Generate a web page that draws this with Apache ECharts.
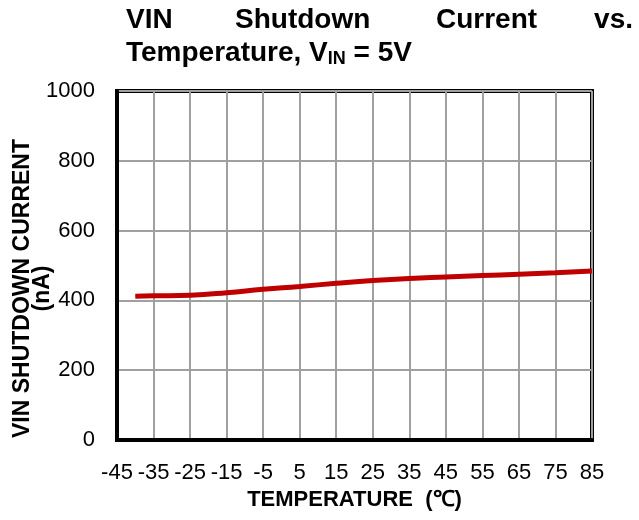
<!DOCTYPE html>
<html>
	<head>
		<meta charset="UTF-8">
		<title>VIN Shutdown Current vs. Temperature</title>
		<style>
			html, body { margin: 0; padding: 0; background: #fff; }
			#chart { width: 639px; height: 520px; }
		</style>
	</head>
	<body>
		<div id="chart"></div>
		<script src="https://cdn.jsdelivr.net/npm/echarts@6/dist/echarts.min.js"></script>
		<script>
			// 数据：温度(°C) 与 关断电流(nA)
			var temps = [-40, -35, -25, -15, -5, 5, 15, 25, 35, 45, 55, 65, 75, 85];
			var currents = [412, 413, 415, 422, 432, 440, 449, 457, 463, 467, 471, 475, 479, 484];
			var xTickLabels = [-45, -35, -25, -15, -5, 5, 15, 25, 35, 45, 55, 65, 75, 85];
			var yTicks = [0, 200, 400, 600, 800, 1000];

			// x轴起点为-45，轴内部用 温度+45 表示，标签再减回去
			var xStart = xTickLabels[0];
			var xEnd = xTickLabels[xTickLabels.length - 1];
			var lineData = temps.map(function(t, i) {
				return [t - xStart, currents[i]];
			});

			var chart = echarts.init(document.getElementById('chart'));
			var font = 'Liberation Sans, Arial, sans-serif';
			var titleStyle = { color: '#000', fontFamily: font, fontSize: 28, fontWeight: 'bold' };

			var option = {
				backgroundColor: '#fff',
				animation: false,
				title: [
					{ text: 'VIN', left: 121, top: 1, textStyle: titleStyle },
					{ text: 'Shutdown', left: 230, top: 1, textStyle: titleStyle },
					{ text: 'Current', left: 431, top: 1, textStyle: titleStyle },
					{ text: 'vs.', right: 1, top: 1, textStyle: titleStyle },
					{
						text: 'Temperature, V{sub|IN} = 5V',
						left: 121,
						top: 33,
						textStyle: {
							color: '#000', fontFamily: font, fontSize: 28, fontWeight: 'bold',
							rich: {
								sub: { fontFamily: font, fontSize: 18, fontWeight: 'bold', padding: [12, 0, 0, 0] }
							}
						}
					}
				],
				grid: {
					left: 117,
					right: 47,
					top: 91,
					bottom: 80,
					outerBoundsMode: 'none',
					show: true,
					borderColor: '#000',
					borderWidth: 4
				},
				xAxis: {
					type: 'value',
					min: 0,
					max: xEnd - xStart,
					interval: 10,
					name: 'TEMPERATURE  (\u2103)',
					nameLocation: 'middle',
					nameGap: 46,
					nameTextStyle: { color: '#000', fontFamily: font, fontSize: 22, fontWeight: 'bold' },
					axisLine: { show: true, lineStyle: { color: '#000', width: 4 } },
					axisTick: { show: false },
					axisLabel: {
						color: '#000', fontFamily: font, fontSize: 22, margin: 22,
						formatter: function(v) { return String(v + xStart); }
					},
					splitLine: { show: true, lineStyle: { color: '#a0a0a0', width: 2 } }
				},
				yAxis: {
					type: 'value',
					min: yTicks[0],
					max: yTicks[yTicks.length - 1],
					interval: 200,
					name: 'VIN SHUTDOWN CURRENT\n(nA)',
					nameLocation: 'middle',
					nameGap: 64,
					nameMoveOverlap: false,
					nameTextStyle: {
						color: '#000', fontFamily: font, fontSize: 23, fontWeight: 'bold',
						lineHeight: 20, padding: [0, 46, 0, 0]
					},
					axisLine: { show: true, lineStyle: { color: '#000', width: 4 } },
					axisTick: { show: false },
					axisLabel: {
						color: '#000', fontFamily: font, fontSize: 22, margin: 22,
						formatter: function(v) { return String(v); }
					},
					splitLine: { show: true, lineStyle: { color: '#a0a0a0', width: 2 } }
				},
				series: [{
					type: 'line',
					data: lineData,
					smooth: true,
					showSymbol: false,
					symbol: 'none',
					lineStyle: { color: '#c00000', width: 5 },
					z: 3
				}]
			};

			chart.setOption(option);
			window.addEventListener('resize', function() {
				chart.resize();
			});
		</script>
	</body>
</html>
